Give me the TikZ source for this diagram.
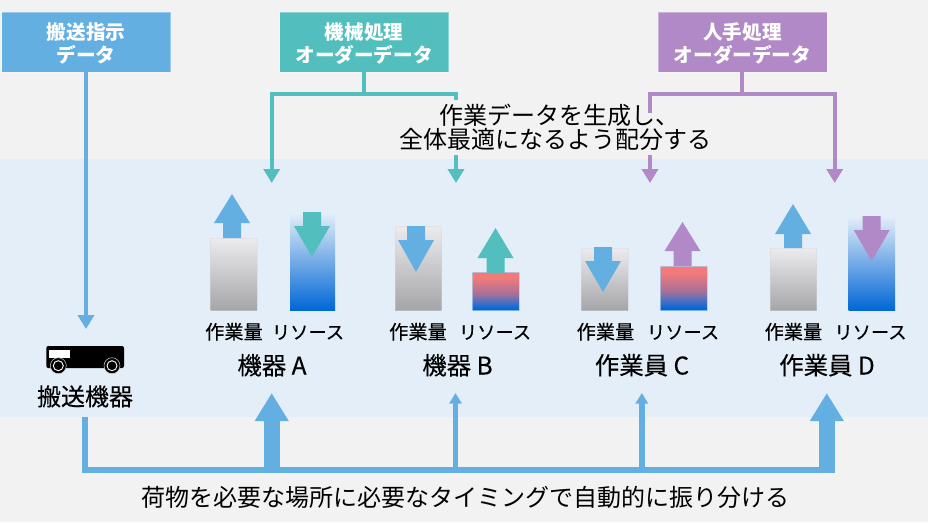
\documentclass[tikz,border=0pt]{standalone}
\usepackage{fontspec}
\setmainfont{Noto Sans CJK JP}
\newfontfamily\medfont[FakeBold=0.25]{Noto Sans CJK JP}
\usetikzlibrary{arrows.meta}
\definecolor{pagebg}{HTML}{F2F2F2}
\definecolor{bandbg}{HTML}{E4EEF8}
\definecolor{cblue}{HTML}{64AFE2}
\definecolor{cteal}{HTML}{52BEBE}
\definecolor{cpurple}{HTML}{B089C6}
\definecolor{gtop}{HTML}{ECECEE}
\definecolor{gbot}{HTML}{A5A4A8}
\definecolor{rblue}{HTML}{0066D6}
\definecolor{rblue2}{HTML}{3F6FC8}
\definecolor{rred}{HTML}{F47A7A}
\definecolor{rmid}{HTML}{A87098}
\pgfdeclareverticalshading{redblue}{100bp}{color(0bp)=(rblue); color(27bp)=(rblue); color(35bp)=(rblue2); color(47bp)=(rmid); color(68bp)=(rred); color(100bp)=(rred)}
\lineskiplimit=-100pt
\tikzset{
  x=1pt,y=-1pt,
  hdr/.style={minimum width=169pt,minimum height=60pt,inner sep=0pt,outer sep=0pt,anchor=north west,draw=white,draw opacity=.35,line width=.6pt},
  hdrtext/.style={text=white,align=center,inner sep=0pt,font=\fontsize{19.6}{23}\bfseries\selectfont},
  barb/.style={inner sep=0pt,outer sep=0pt,anchor=north west,minimum width=46.5pt,line width=.6pt},
  grey/.style={barb,top color=gtop,bottom color=gbot,draw=gbot!45!white,draw opacity=.4},
  rsrc/.style={barb,top color=bandbg,bottom color=rblue,draw=none},
  rsrd/.style={barb,shading=redblue,draw=cblue!55!white,draw opacity=.7},
  wload/.style={font=\medfont\fontsize{19.2}{20}\selectfont,text height=15pt,text depth=3pt,inner sep=0pt},
  small/.style={font=\medfont\fontsize{18.3}{20}\selectfont,text height=15pt,text depth=3pt,inner sep=0pt},
  unit/.style={font=\medfont\fontsize{24.4}{26}\selectfont,text height=19pt,text depth=4pt,inner sep=0pt},
  big/.style={font=\fontsize{24}{24}\selectfont,align=center,inner sep=0pt},
  thin link/.style={line width=4.2pt},
  head/.style={-{Triangle[length=14pt,width=16pt]}},
  bigup/.style={line width=15.6pt,-{Triangle[length=28pt,width=32pt]},cblue},
  smallup/.style={line width=5.8pt,-{Triangle[length=10.5pt,width=12pt]},cblue},
}
\newcommand{\uparw}[5]{% colour, centre x, tip y, base y, bottom y
  \fill[#1] (#2,#3) -- (#2+18,#4) -- (#2+9,#4) -- (#2+9,#5) -- (#2-9,#5) -- (#2-9,#4) -- (#2-18,#4) -- cycle;}
\newcommand{\dnarw}[5]{% colour, centre x, top y, base y, tip y
  \fill[#1] (#2-9,#3) -- (#2+9,#3) -- (#2+9,#4) -- (#2+18,#4) -- (#2,#5) -- (#2-18,#4) -- (#2-9,#4) -- cycle;}
\begin{document}
\begin{tikzpicture}
\useasboundingbox (0,0) rectangle (928,522);
\fill[pagebg] (0,0) rectangle (928,522);
\fill[bandbg] (0,159) rectangle (928,417);

% header boxes
\node[hdr,fill=cblue] (hA) at (1.5,12) {};
\node[hdr,fill=cteal] (hB) at (279.5,12) {};
\node[hdr,fill=cpurple] (hC) at (658,12) {};
\node[hdrtext] (hAt) at (86,43.5) {搬送指示\\データ};
\node[hdrtext] (hBt) at (364,43.5) {機械処理\\オーダーデータ};
\node[hdrtext] (hCt) at (742.5,43.5) {人手処理\\オーダーデータ};

% coordinates
\coordinate (tA) at (271.7,183);
\coordinate (tB) at (456,183);
\coordinate (tC) at (650,183);
\coordinate (tD) at (834.7,183);
\coordinate (tV) at (86,329);
\coordinate (jT) at (364,93.8);
\coordinate (jP) at (742.3,93.8);
\coordinate (gB1) at (456,100);
\coordinate (gB2) at (456,155);
\coordinate (gC1) at (650,113);
\coordinate (gC2) at (650,155);
\coordinate (bS) at (85.3,417);
\coordinate (bC) at (85.3,470);
\coordinate (bE) at (834.7,470);
\coordinate (uA) at (271.7,393);
\coordinate (uB) at (455.5,393);
\coordinate (uC) at (641.8,393);
\coordinate (uD) at (826.8,393);

% teal
\draw[thin link,cteal] (hB.south -| jT) -- (jT);
\draw[thin link,cteal,head] (jT) -| (tA);
\draw[thin link,cteal] (jT) -| (gB1);
\draw[thin link,cteal,head] (gB2) -- (tB);
% purple
\draw[thin link,cpurple] (hC.south -| jP) -- (jP);
\draw[thin link,cpurple,head] (jP) -| (tD);
\draw[thin link,cpurple] (jP) -| (gC1);
\draw[thin link,cpurple,head] (gC2) -- (tC);
% blue
\draw[thin link,cblue,head] (hA.south -| tV) -- (tV);
\draw[line width=6pt,cblue,line join=miter] (bS) |- (bE);
\draw[bigup] (271.7,470) -- (uA);
\draw[smallup] (455.5,470) -- (uB);
\draw[smallup] (641.8,470) -- (uC);
\draw[bigup] (826.8,470) -- (uD);

% bars
\node[grey,minimum height=72.7pt] (a1) at (210.5,238) {};
\node[rsrc,minimum width=45pt,minimum height=97.7pt] (a2) at (290,213) {};
\node[grey,minimum height=84.7pt] (b1) at (395,226) {};
\node[rsrd,minimum height=38.7pt] (b2) at (472.5,272) {};
\node[grey,minimum height=62.7pt] (c1) at (581.5,248) {};
\node[rsrd,minimum height=44.7pt] (c2) at (660.5,266) {};
\node[grey,minimum height=62.7pt] (d1) at (770,248) {};
\node[rsrc,minimum height=94.7pt] (d2) at (848.5,216) {};

\uparw{cblue}{232}{194}{223}{238}
\dnarw{cteal}{312}{212}{226}{257}
\dnarw{cblue}{416}{226}{240}{272}
\uparw{cteal}{495.5}{228}{258}{273}
\dnarw{cblue}{603}{247}{261}{292}
\uparw{cpurple}{682.5}{222}{251}{266}
\uparw{cblue}{793}{204}{234}{248}
\dnarw{cpurple}{871.7}{216}{230}{261}

% labels
\node[wload] (la1) at (234,333) {作業量};
\node[small] (la2) at (308,333) {リソース};
\node[wload] (lb1) at (418,333) {作業量};
\node[small] (lb2) at (495,333) {リソース};
\node[wload] (lc1) at (605.5,333) {作業量};
\node[small] (lc2) at (683,333) {リソース};
\node[wload] (ld1) at (793.5,333) {作業量};
\node[small] (ld2) at (870.5,333) {リソース};
\node[unit] (na) at (272,367) {機器 A};
\node[unit] (nb) at (457.5,367) {機器 B};
\node[unit] (nc) at (642,367) {作業員 C};
\node[unit] (nd) at (827,367) {作業員 D};
\node[unit,font=\medfont\fontsize{24}{26}\selectfont] (nv) at (85,398) {搬送機器};

% vehicle
\fill[black,rounded corners=2pt] (46.3,346) rectangle (124,368);
\fill[white] (48.5,349.5) rectangle (69.5,357.5);
\foreach \wx in {58.3,112}{
  \fill[black] (\wx,365.7) circle (8);
  \draw[white!85!black,line width=.5pt] (\wx,365.7) circle (8);
  \draw[white,line width=.9pt] (\wx,365.7) circle (5);
}

% texts
\node[big] (mid) at (555.3,127) {\hspace*{8pt}作業データを生成し、\\全体最適になるよう配分する};
\node[big] (bot) at (465,497) {荷物を必要な場所に必要なタイミングで自動的に振り分ける};
\end{tikzpicture}
\end{document}
